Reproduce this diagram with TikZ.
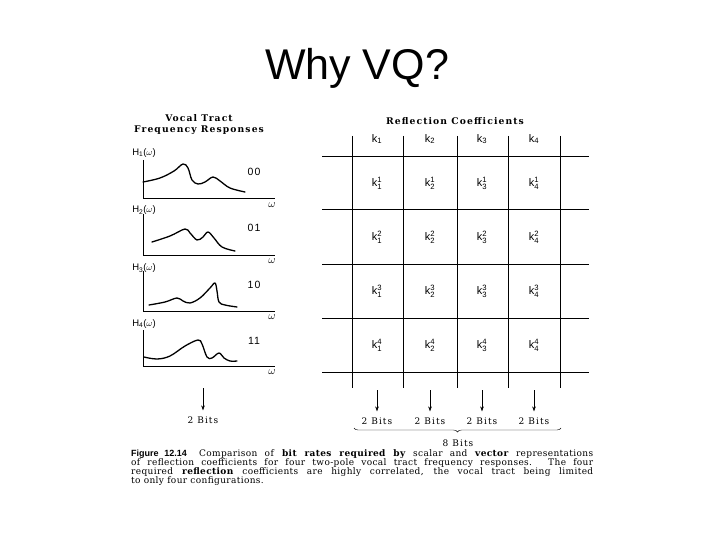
\documentclass[tikz,border=0pt]{standalone}
\usepackage{fontspec}
\setmainfont{Liberation Serif}
\setsansfont{Liberation Sans}
\newfontfamily\scanfont[LetterSpace=12]{DejaVu Serif}
\newfontfamily\capfont[LetterSpace=4]{DejaVu Serif}
\newfontfamily\scansans[LetterSpace=10]{Liberation Sans}
\usetikzlibrary{arrows.meta, decorations.pathreplacing}

\begin{document}
\begin{tikzpicture}[x=1pt,y=-1pt,
  hlbl/.style={font=\sffamily\fontsize{9.5}{10}\selectfont, inner sep=1pt},
  code/.style={font=\scansans\fontsize{10.5}{11}\selectfont, inner sep=1pt},
  klbl/.style={font=\scansans\fontsize{11}{11}\selectfont, inner sep=1pt},
  bits/.style={font=\scanfont\fontsize{9}{10}\selectfont, inner sep=1pt},
  head/.style={font=\scanfont\bfseries\fontsize{9.2}{11}\selectfont, align=center, inner sep=1pt},
  capline/.style={font=\capfont\fontsize{9}{9}\selectfont, anchor=west, inner sep=0pt},
  curve/.style={line width=1.3pt, line join=round, line cap=round},
  axis/.style={line width=1pt},
  gridline/.style={line width=0.9pt},
  >={Stealth[length=5pt, width=3.5pt]}]
  \useasboundingbox[fill=white] (0,0) rectangle (720,540);
  % Title
  \node[font=\sffamily\fontsize{43}{50}\selectfont] (title) at (357,68) {Why VQ?};

  % Left panel: vocal tract responses
  \node[head] (vthead) at (199,125) {Vocal Tract\\Frequency Responses};
  \foreach \i/\top/\bot/\ly in {1/160/199/153, 2/214/255/210, 3/271/311/268, 4/330/366/324} {
    \draw[axis] (143,\top) -- (143,\bot) -- (275,\bot);
    \node[hlbl] (h\i) at (144,\ly) {H$_{\mathsf{\i}}$($\omega$)};
    \node[hlbl, font=\fontsize{11}{11}\selectfont] (w\i) at (272,\bot+6) {$\omega$};
  }
  \foreach \i/\c/\y in {1/00/172, 2/01/228, 3/10/285, 4/11/341}
    \node[code] (c\i) at (254,\y) {\c};
  % Response curves
  \draw[curve] plot[smooth, tension=0.6] coordinates {(143,182) (160,178) (174,171) (183,164) (188,168) (192,180) (198,184) (205,182) (213,177) (220,181) (230,188) (245,192)};
  \draw[curve] plot[smooth, tension=0.6] coordinates {(152,242) (170,236) (185,229) (190,233) (197,240) (203,237) (208,232) (214,238) (222,247) (235,251)};
  \draw[curve] plot[smooth, tension=0.6] coordinates {(149,305) (165,302) (177,298) (183,301) (190,303) (200,298) (210,288) (215,283) (217,291) (219,302) (225,305) (237,307)};
  \draw[curve] plot[smooth, tension=0.6] coordinates {(144,357) (157,359) (170,356) (185,346) (198,340) (202,344) (207,357) (212,358) (219,353) (224,358) (230,361) (237,361)};
  \coordinate (ha) at (203,388);
  \node[bits] (hb) at (203,420) {2 Bits};
  \draw[->] (ha) -- ([yshift=5pt]hb.north);

  % Right panel: reflection coefficients
  \node[head] (rchead) at (455,121) {Reflection Coefficients};
  \foreach \x in {352,403,457,508,560}
    \draw[gridline] (\x,136) -- (\x,388);
  \foreach \y in {156,209,264,318,372}
    \draw[gridline] (322,\y) -- (589,\y);
  \foreach \i/\x in {1/377, 2/430, 3/482, 4/534} {
    \node[klbl] (k\i) at (\x,139) {k$_{\mathsf{\i}}$};
    \foreach \j/\y in {1/183, 2/237, 3/291, 4/345}
      \node[klbl] (k\i\j) at (\x,\y) {k$^{\mathsf{\j}}_{\mathsf{\i}}$};
    \coordinate (ka\i) at (\x,390);
    \node[bits] (kb\i) at (\x,421) {2 Bits};
    \draw[->] (ka\i) -- ([yshift=5pt]kb\i.north);
  }
  \coordinate (bl) at (354,428);
  \coordinate (br) at (561,428);
  \draw[decorate, decoration={brace, mirror, amplitude=4pt}] (bl) -- (br);
  \node[bits] (eight) at (458,443) {8 Bits};

  % Caption
  \node[capline] (cap1) at (131,454) {\makebox[462pt][s]{{\sffamily\bfseries Figure 12.14}\hspace{5pt} Comparison of \textbf{bit rates required by} scalar and \textbf{vector} representations}};
  \node[capline] (cap2) at (131,463) {\makebox[462pt][s]{of reflection coefficients for four two-pole vocal tract frequency responses. The four}};
  \node[capline] (cap3) at (131,472) {\makebox[462pt][s]{required \textbf{reflection} coefficients are highly correlated, the vocal tract being limited}};
  \node[capline] (cap4) at (131,481) {to only four configurations.};
\end{tikzpicture}
\end{document}
